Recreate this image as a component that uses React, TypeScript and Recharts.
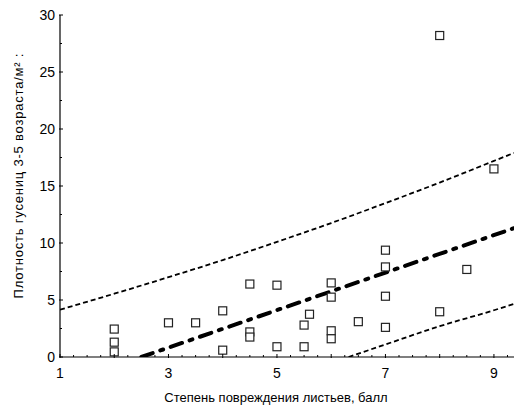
import React from 'react';
import { ComposedChart, XAxis, YAxis, Scatter, Line, Label } from 'recharts';

const FONT = '"Liberation Sans", Arial, sans-serif';

// Observations: damage score (x) vs. caterpillar density (y)
const DAMAGE = [2, 2, 2, 3, 3.5, 4, 4, 4.5, 4.5, 4.5, 5, 5, 5.5, 5.5, 5.6, 6, 6, 6, 6, 6.5, 7, 7, 7, 7, 8, 8, 8.5, 9];
const DENSITY = [2.45, 1.3, 0.45, 3.0, 3.0, 4.05, 0.6, 6.4, 2.2, 1.75, 6.3, 0.9, 2.8, 0.9, 3.75, 6.5, 5.25, 2.3, 1.6, 3.1, 9.37, 7.9, 5.33, 2.6, 28.2, 3.97, 7.68, 16.5];

// Regression line
const REG_X = [2.5, 9.37];
const REG_Y = [0, 11.3];

// Upper band
const UP_X = [1, 2, 3, 4, 5, 6, 7, 8, 9, 9.37];
const UP_Y = [4.15, 5.55, 7.0, 8.5, 10.1, 11.75, 13.5, 15.3, 17.2, 17.9];

// Lower band
const LO_X = [6.32, 7, 8, 9, 9.37];
const LO_Y = [0, 1.1, 2.7, 4.1, 4.65];

const X_LABELS = [1, 3, 5, 7, 9];
const Y_LABELS = [0, 5, 10, 15, 20, 25, 30];

const X_DOMAIN: [number, number] = [1, 9.37];
const Y_DOMAIN: [number, number] = [0, 30];

const X_TICKS: number[] = [];
for (let v = 1; v <= 9.3; v += 0.25) X_TICKS.push(Math.round(v * 100) / 100);
const Y_TICKS: number[] = [];
for (let v = 0; v <= 30; v += 2.5) Y_TICKS.push(v);

const zip = (xs: number[], ys: number[]) => xs.map((x, i) => ({ x, y: ys[i] }));
const points = zip(DAMAGE, DENSITY);
const regression = zip(REG_X, REG_Y);
const upper = zip(UP_X, UP_Y);
const lower = zip(LO_X, LO_Y);

const BottomTick = (props: any) => {
  const { x, y, payload } = props;
  const v = payload.value;
  const major = Number.isInteger(v);
  return (
    <g>
      <line x1={x} x2={x} y1={y + (major ? 1 : 0)} y2={y - (major ? 3 : 2)} stroke="#000" strokeWidth={1} />
      {X_LABELS.includes(v) && (
        <text x={x} y={y + 21} textAnchor="middle" fontSize={14} fontFamily={FONT} fill="#000">
          {v}
        </text>
      )}
    </g>
  );
};

const TopTick = (props: any) => {
  const { x, y, payload } = props;
  const major = Number.isInteger(payload.value);
  return <line x1={x} x2={x} y1={y} y2={y + (major ? 3 : 2)} stroke="#000" strokeWidth={1} />;
};

const LeftTick = (props: any) => {
  const { x, y, payload } = props;
  const v = payload.value;
  const major = Y_LABELS.includes(v);
  return (
    <g>
      <line x1={x - (major ? 1 : 0)} x2={x + (major ? 3 : 2)} y1={y} y2={y} stroke="#000" strokeWidth={1} />
      {major && (
        <text x={x - 5} y={y + 5} textAnchor="end" fontSize={14} fontFamily={FONT} fill="#000">
          {v}
        </text>
      )}
    </g>
  );
};

const Square = (props: any) => {
  const { cx, cy } = props;
  if (cx == null || cy == null) return <g />;
  return <rect x={cx - 4} y={cy - 4} width={8} height={8} fill="#fff" stroke="#222" strokeWidth={1.2} />;
};

export default function App() {
  return (
    <div style={{ position: 'absolute', left: 0, top: 0, background: '#fff' }}>
      <ComposedChart width={514} height={406} margin={{ top: 15, right: 0, bottom: 0, left: 0 }}>
        <XAxis
          dataKey="x"
          type="number"
          domain={X_DOMAIN}
          allowDataOverflow
          ticks={X_TICKS}
          interval={0}
          tickSize={0}
          tickMargin={0}
          tickLine={false}
          tick={<BottomTick />}
          height={49}
          axisLine={{ stroke: '#000', strokeWidth: 1.2 }}
        >
          <Label
            content={() => (
              <text x={276} y={402} textAnchor="middle" fontSize={13} fontFamily={FONT} fill="#000">
                Степень повреждения листьев, балл
              </text>
            )}
          />
        </XAxis>
        <XAxis
          xAxisId="top"
          orientation="top"
          dataKey="x"
          type="number"
          domain={X_DOMAIN}
          allowDataOverflow
          ticks={X_TICKS}
          interval={0}
          tickSize={0}
          tickMargin={0}
          tickLine={false}
          tick={<TopTick />}
          height={0}
          axisLine={{ stroke: '#000', strokeWidth: 1.2 }}
        />
        <YAxis
          dataKey="y"
          type="number"
          domain={Y_DOMAIN}
          allowDataOverflow
          ticks={Y_TICKS}
          interval={0}
          tickSize={0}
          tickMargin={0}
          tickLine={false}
          tick={<LeftTick />}
          width={60}
          axisLine={{ stroke: '#000', strokeWidth: 1.2 }}
        >
          <Label
            content={() => (
              <text
                x={23}
                y={176}
                textAnchor="middle"
                fontSize={13}
                fontFamily={FONT}
                fill="#000"
                textLength={245}
                lengthAdjust="spacing"
                transform="rotate(-90 23 176)"
              >
                Плотность гусениц 3-5 возраста/м² :
              </text>
            )}
          />
        </YAxis>
        <Line
          data={upper}
          dataKey="y"
          type="monotone"
          stroke="#000"
          strokeWidth={1.8}
          strokeDasharray="5 3"
          dot={false}
          activeDot={false}
          isAnimationActive={false}
        />
        <Line
          data={lower}
          dataKey="y"
          type="monotone"
          stroke="#000"
          strokeWidth={1.8}
          strokeDasharray="5 3"
          dot={false}
          activeDot={false}
          isAnimationActive={false}
        />
        <Line
          data={regression}
          dataKey="y"
          type="linear"
          stroke="#000"
          strokeWidth={4}
          strokeLinecap="round"
          strokeDasharray="12 8 3 8"
          dot={false}
          activeDot={false}
          isAnimationActive={false}
        />
        <Scatter data={points} dataKey="y" shape={<Square />} isAnimationActive={false} />
      </ComposedChart>
    </div>
  );
}
